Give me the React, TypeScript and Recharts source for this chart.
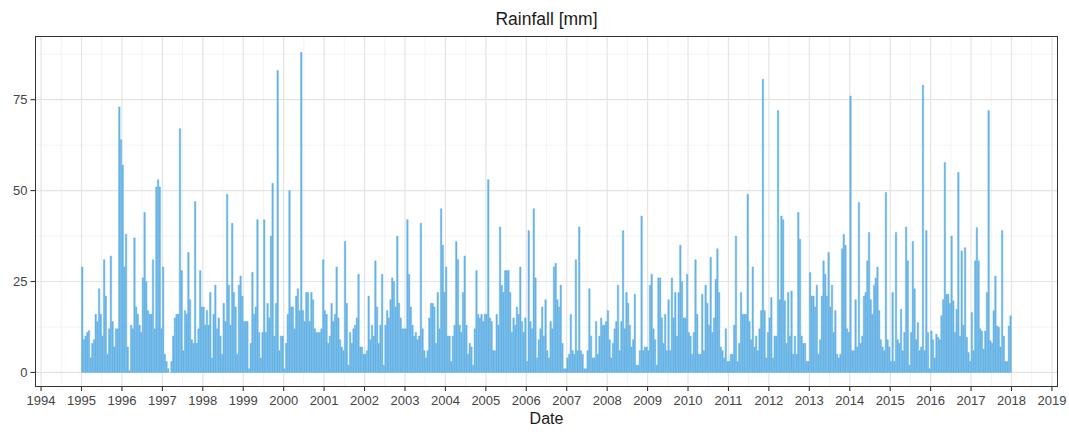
import { BarChart, Bar, XAxis, YAxis, CartesianGrid } from "recharts";

// roughly two values per month (half-month peaks), mm
const y1995 = [29, 9, 10, 11, 11.5, 4, 8, 9, 16, 14, 23, 16, 10, 31, 21, 5, 12, 32, 14, 7, 12, 12, 73, 64];
const y1996 = [57, 29, 38, 7, 0.5, 13, 12, 37, 18, 16, 13, 11, 26, 44, 25, 17, 16, 16, 31, 12, 51, 53, 51, 12];
const y1997 = [29, 5, 3, 1, 0, 3, 10, 15, 16, 16, 67, 28, 6, 17, 16, 33, 20, 9, 8, 47, 8, 12, 28, 18];
const y1998 = [18, 13, 17, 13, 22, 4, 16, 24, 12, 15, 10, 5, 19, 14, 49, 24, 13, 41, 22, 18, 5, 24, 26.5, 21];
const y1999 = [14, 14, 14, 1, 8, 27.5, 16, 18, 42, 11, 4, 11, 42, 11, 19, 15, 37.5, 52, 10, 19, 83, 6, 10, 10];
const y2000 = [1, 8, 16, 50, 18, 18, 12, 21, 23, 17, 88, 17, 14, 22, 22, 14, 22, 20, 12, 11, 11, 11, 12, 31];
const y2001 = [17, 16, 8, 10, 19, 14, 16, 29, 15, 9, 7, 6, 36, 19, 2, 11, 8, 12, 13, 15, 27, 7, 7, 5];
const y2002 = [5, 6, 21, 9, 13, 10, 30.7, 18, 8, 13, 27, 2, 13, 17, 15, 20, 26, 25, 18, 37.5, 19, 15, 12, 12];
const y2003 = [12, 42, 27, 18, 13, 10, 11, 9, 10, 41, 12, 6, 4, 6, 15, 19, 19, 18, 8, 22, 12, 45, 35, 22];
const y2004 = [29, 10, 10, 3, 10, 13, 36, 31, 13, 11, 22, 32, 13, 5, 8, 7, 2, 12, 28, 16, 15, 16, 14, 16];
const y2005 = [16, 53, 15, 14, 6, 6, 16, 13, 40, 24, 22, 28, 28, 28, 22, 11, 15, 13, 18, 16, 29, 14, 11, 15];
const y2006 = [3, 39, 14, 12, 45, 26, 4, 9, 12, 18, 10, 20, 6, 4, 14, 12, 29, 30, 20, 18, 24, 8, 1, 1];
const y2007 = [4, 5, 16, 6, 5, 31, 6, 40, 6, 5, 1, 1, 6, 23, 10, 4, 4, 14, 5, 10, 15, 13, 13, 14];
const y2008 = [17, 9, 4, 8, 12, 14, 24, 6, 14, 39, 12, 22, 19, 13, 7, 9, 21.5, 2, 2, 6, 43, 6, 7, 7];
const y2009 = [6, 24, 27, 12, 9, 2, 26, 26, 15, 8, 16, 6, 20, 6, 26, 15, 22, 10, 22, 35, 25, 15, 15, 27];
const y2010 = [11, 10, 5, 11, 31, 16, 5, 5, 21.5, 6, 24, 19, 13, 31.6, 11, 15, 25.6, 34, 22, 7, 6, 4, 12, 3];
const y2011 = [3, 5, 5, 13, 37.5, 3, 8, 22, 16, 16, 16, 49, 14, 9, 29, 7, 10, 6, 12, 17, 80.6, 17, 4, 11];
const y2012 = [15, 20.6, 4, 10, 10, 72, 20, 43, 42, 19.7, 8, 22, 10, 22.4, 5, 10, 5, 44, 36.6, 10, 8, 8, 3, 3];
const y2013 = [27.5, 21, 21, 18, 24, 5, 9, 21, 30.7, 27, 21, 33, 18, 24, 11, 17, 5, 4, 5, 34, 38, 35, 12, 11];
const y2014 = [76, 6, 6, 20, 7, 46.7, 8, 10, 21, 22, 30.7, 38.5, 20, 16, 24, 26, 29, 17, 9, 7, 6, 49.5, 9, 7];
const y2015 = [3, 22, 3, 38.5, 9, 8, 17.4, 6, 11, 40, 30.7, 2, 11, 36, 23, 9, 13.7, 6, 7, 79, 6, 39, 11, 1];
const y2016 = [11.4, 9, 4, 10.5, 9.6, 9, 15.6, 20, 57.7, 21.5, 21.5, 19, 37.5, 19.7, 11, 17.4, 55, 10, 33.4, 13, 34.3, 9.6, 5.5, 3];
const y2017 = [16.5, 6, 30.7, 39.8, 30.7, 12, 11.4, 6.4, 11.4, 22, 72, 8.7, 8, 17, 26.5, 12.8, 12.4, 7, 39, 10, 3, 3, 12.8, 15.6];

const years = [1995, 1996, 1997, 1998, 1999, 2000, 2001, 2002, 2003, 2004, 2005, 2006,
  2007, 2008, 2009, 2010, 2011, 2012, 2013, 2014, 2015, 2016, 2017];
const yearValues = [y1995, y1996, y1997, y1998, y1999, y2000, y2001, y2002, y2003, y2004, y2005, y2006,
  y2007, y2008, y2009, y2010, y2011, y2012, y2013, y2014, y2015, y2016, y2017];

const xTicks = [1994, 1995, 1996, 1997, 1998, 1999, 2000, 2001, 2002, 2003, 2004, 2005, 2006,
  2007, 2008, 2009, 2010, 2011, 2012, 2013, 2014, 2015, 2016, 2017, 2018, 2019];
const yTicks = [0, 25, 50, 75];
const yMinor = [12.5, 37.5, 62.5, 87.5];

const data = years.flatMap((yr, k) =>
  yearValues[k].map((v, i) => ({ t: yr + (i + 0.5) / yearValues[k].length, rain: v }))
);

const X_DOMAIN: [number, number] = [1993.85, 2019.15];
const Y_DOMAIN: [number, number] = [-4, 92.5];

const W = 1069;
const H = 432;
const M = { top: 36, right: 11, left: 5, bottom: 20 };
const Y_W = 30;
const X_H = 25;

const font = "'Liberation Sans', Arial, Helvetica, sans-serif";
const BLUE = "#67b4e6";

const xMinor = xTicks.slice(1).map((v) => v - 0.5);

// grid line positions through the axis scale
const onX = (vals: number[]) => (p: any) => {
  const s = p?.xAxis?.scale;
  if (typeof s === "function") return vals.map((v) => s(v));
  const o = p.offset;
  return vals.map((v) => o.left + ((v - X_DOMAIN[0]) / (X_DOMAIN[1] - X_DOMAIN[0])) * o.width);
};
const onY = (vals: number[]) => (p: any) => {
  const s = p?.yAxis?.scale;
  if (typeof s === "function") return vals.map((v) => s(v));
  const o = p.offset;
  return vals.map((v) => o.top + ((Y_DOMAIN[1] - v) / (Y_DOMAIN[1] - Y_DOMAIN[0])) * o.height);
};

export default function App() {
  const plotL = M.left + Y_W;
  const plotT = M.top;
  const plotW = W - plotL - M.right;
  const plotH = H - M.top - M.bottom - X_H;

  return (
    <div style={{ position: "absolute", left: 0, top: 0, width: W, height: H, background: "#fff", fontFamily: font }}>
      <div style={{ position: "absolute", left: plotL, top: 9, width: plotW, textAlign: "center", fontSize: 17.5, color: "#1a1a1a" }}>
        Rainfall [mm]
      </div>
      <BarChart width={W} height={H} data={data} margin={M} barCategoryGap={0}>
        <CartesianGrid
          stroke="#ececec"
          strokeWidth={0.6}
          verticalCoordinatesGenerator={onX(xMinor)}
          horizontalCoordinatesGenerator={onY(yMinor)}
        />
        <CartesianGrid
          stroke="#e4e4e4"
          strokeWidth={1.2}
          verticalCoordinatesGenerator={onX(xTicks)}
          horizontalCoordinatesGenerator={onY(yTicks)}
        />
        <XAxis
          dataKey="t"
          type="number"
          domain={X_DOMAIN}
          allowDataOverflow
          ticks={xTicks}
          interval={0}
          height={X_H}
          axisLine={false}
          tickLine={{ stroke: "#333", strokeWidth: 1.1 }}
          tickSize={4}
          tickMargin={5}
          tick={{ fill: "#444", fontSize: 13, fontFamily: font }}
        />
        <YAxis
          type="number"
          domain={Y_DOMAIN}
          allowDataOverflow
          ticks={yTicks}
          width={Y_W}
          axisLine={false}
          tickLine={{ stroke: "#333", strokeWidth: 1.1 }}
          tickSize={4.5}
          tickMargin={3}
          tick={{ fill: "#444", fontSize: 13, fontFamily: font }}
        />
        <Bar dataKey="rain" fill={BLUE} stroke={BLUE} strokeWidth={0.45} barSize={2} isAnimationActive={false} />
      </BarChart>
      <div
        style={{
          position: "absolute",
          left: plotL,
          top: plotT,
          width: plotW,
          height: plotH,
          border: "1.5px solid #333",
          boxSizing: "border-box",
          pointerEvents: "none",
        }}
      />
      <div style={{ position: "absolute", left: plotL, top: 410, width: plotW, textAlign: "center", fontSize: 16, color: "#1a1a1a" }}>
        Date
      </div>
    </div>
  );
}
